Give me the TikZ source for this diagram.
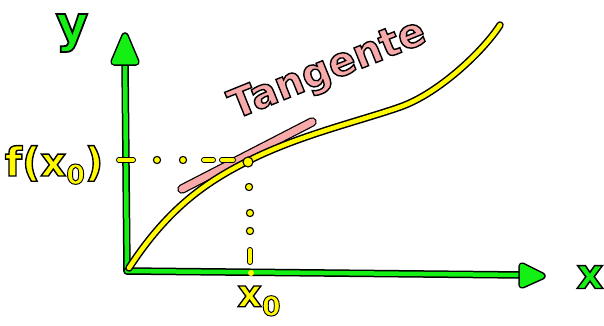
\documentclass[tikz,border=0pt]{standalone}
\usepackage{fontspec}
\newfontfamily\hand{DejaVu Sans}[FakeBold=3.5]
\newcommand{\blackedge}{\special{pdf:literal direct 0 0 0 RG}}
\definecolor{gr}{RGB}{20,240,20}
\definecolor{ye}{RGB}{255,250,0}
\definecolor{pk}{RGB}{248,170,170}
\tikzset{
  axisline/.style={draw=gr, line width=4.5pt, line cap=round, line join=round,
    preaction={draw=black, line width=7.5pt, line cap=round, line join=round}},
  curveline/.style={draw=ye, line width=4.5pt, line cap=round, line join=round,
    preaction={draw=black, line width=7.5pt, line cap=round, line join=round}},
  tanline/.style={draw=pk, line width=7pt, line cap=round,
    preaction={draw=black, line width=9.5pt, line cap=round}},
  tickline/.style={draw=ye, line width=4pt, line cap=round,
    preaction={draw=black, line width=6pt, line cap=round}},
  dotmark/.style={fill=ye, draw=black, line width=1.1pt},
  lbl/.style={inner sep=0pt, font=\hand\bfseries\fontsize{#1}{#1}\selectfont},
}
\begin{document}
\begin{tikzpicture}[x=1pt,y=1pt]
\useasboundingbox (0,0) rectangle (604,325);
% coordinates
\coordinate (O) at (127,54);
\coordinate (Yend) at (125,264);
\coordinate (Xend) at (523,50);
% axes
\draw[axisline] (O) -- (Yend);
\draw[axisline] (O) -- (Xend);
\draw[axisline, fill=gr] (114,263) -- (136,263) -- (125,289) -- cycle;
\draw[axisline, fill=gr] (522,59) -- (522,40) -- (542,49) -- cycle;
% tangent
\coordinate (Ta) at (182,136);
\coordinate (Tb) at (312,203);
\draw[tanline] (Ta) -- (Tb);
% curve
\coordinate (C0) at (129,57);
\coordinate (P) at (250,165);
\coordinate (C2) at (400,218);
\coordinate (C3) at (500,300);
\draw[curveline] (C0) .. controls (170,120) and (210,145) .. (P)
  .. controls (300,190) and (360,204) .. (C2)
  .. controls (440,232) and (485,276) .. (C3);
% tick on y axis and dotted guides
\coordinate (Ta1) at (119,165);
\coordinate (Ta2) at (133,165);
\draw[tickline] (Ta1) -- (Ta2);
\filldraw[dotmark] (157,165) circle (3.6);
\filldraw[dotmark] (183,165) circle (3.6);
\coordinate (Da1) at (204,165);
\coordinate (Da2) at (213,165);
\draw[tickline] (Da1) -- (Da2);
\coordinate (Db1) at (222,165);
\coordinate (Db2) at (233,165);
\draw[tickline] (Db1) -- (Db2);
\filldraw[dotmark] (248,163) circle (5);
\filldraw[dotmark] (249,138) circle (3.6);
\filldraw[dotmark] (250,112) circle (3.6);
\filldraw[dotmark] (250,94) circle (3.6);
\coordinate (Dc1) at (250,75);
\coordinate (Dc2) at (250,63);
\draw[tickline] (Dc1) -- (Dc2);
\fill[ye] (251,52) circle (3);
% labels
\node[lbl=50, text=gr] (ylab) at (72,292) {\blackedge y};
\node[lbl=42, text=gr] (xlab) at (590,48) {\blackedge x};
\node[lbl=40, text=ye] (flab) at (54,160) {\blackedge f(x\raisebox{-8pt}{\fontsize{27}{27}\selectfont\blackedge 0})};
\node[lbl=38, text=ye] (x0lab) at (259,24) {\blackedge x\raisebox{-9pt}{\fontsize{27}{27}\selectfont\blackedge 0}};
\node[lbl=40, text=pk, rotate=22] (tlab) at (328,254) {\blackedge Tangente};
\end{tikzpicture}
\end{document}
